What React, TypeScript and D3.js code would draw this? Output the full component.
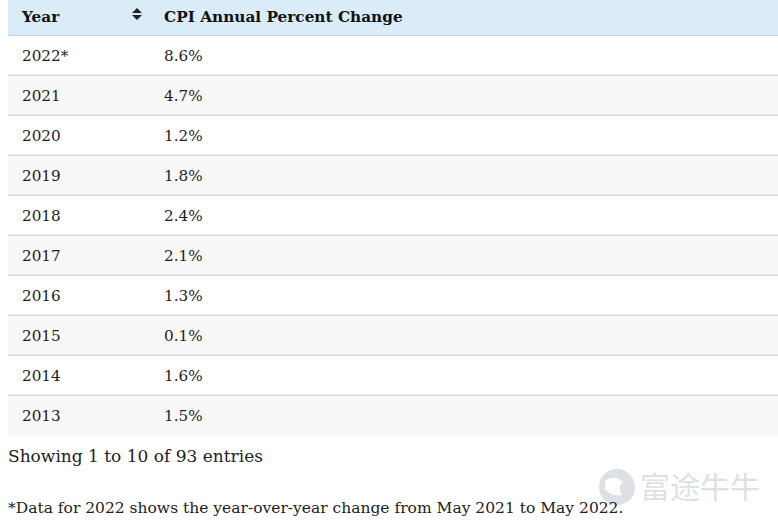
import * as d3 from "d3";
import React from "react";

const W = 778;
const H = 524;

const years = ["2022*", "2021", "2020", "2019", "2018", "2017", "2016", "2015", "2014", "2013"];
const cpiChange = [8.6, 4.7, 1.2, 1.8, 2.4, 2.1, 1.3, 0.1, 1.6, 1.5];
const headers = ["Year", "CPI Annual Percent Change"];

const serif = "'DejaVu Serif', 'Liberation Serif', serif";

export default function App() {
  const left = 8;
  const headerH = 36;
  const y = d3
    .scaleBand<number>()
    .domain(d3.range(years.length))
    .range([headerH, headerH + 40 * years.length])
    .paddingInner(0);
  const col = d3.scaleOrdinal<string, number>().domain(headers).range([22, 164]);

  return (
    <svg
      width={W}
      height={H}
      style={{ position: "absolute", left: 0, top: 0, background: "#fff" }}
      fontFamily={serif}
    >
      {/* header */}
      <rect x={left} y={0} width={W - left} height={headerH} fill="#d9ecf7" />
      <line x1={left} x2={W} y1={headerH - 0.5} y2={headerH - 0.5} stroke="#c6d3dc" />
      {headers.map((h) => (
        <text key={h} x={col(h)} y={22} fontSize={15.3} fontWeight="bold" fill="#111">
          {h}
        </text>
      ))}
      {/* sort arrows */}
      <path d="M132,13 L137,8 L142,13 Z M132,15 L137,20 L142,15 Z" fill="#222" />

      {/* rows */}
      {years.map((yr, i) => {
        const y0 = y(i)!;
        return (
          <g key={yr}>
            <rect x={left} y={y0} width={W - left} height={y.bandwidth()} fill={i % 2 ? "#f8f8f8" : "#fff"} />
            {i < years.length - 1 && (
              <rect x={left} y={y0 + y.bandwidth() - 1.5} width={W - left} height={1.5} fill="#dcdcdc" />
            )}
            <text x={col("Year")} y={y0 + 25} fontSize={15.2} fill="#222">
              {yr}
            </text>
            <text x={col("CPI Annual Percent Change")} y={y0 + 25} fontSize={15.2} fill="#222">
              {d3.format(".1f")(cpiChange[i])}%
            </text>
          </g>
        );
      })}

      <text x={8} y={462} fontSize={17} fill="#222">
        Showing 1 to 10 of 93 entries
      </text>

      {/* watermark */}
      <g>
        <circle cx={617} cy={487} r={18} fill="#dde1e5" />
        <path d="M605,481 q9,-7 18,1 q-6,5 -1,13 q-10,2 -17,-6 Z" fill="#fff" />
        <text x={640} y={498} fontSize={30} fill="#dde1e5" fontFamily="'Noto Sans CJK SC', sans-serif">
          富途牛牛
        </text>
      </g>

      <text x={8} y={513} fontSize={15.5} fill="#222">
        *Data for 2022 shows the year-over-year change from May 2021 to May 2022.
      </text>
    </svg>
  );
}
